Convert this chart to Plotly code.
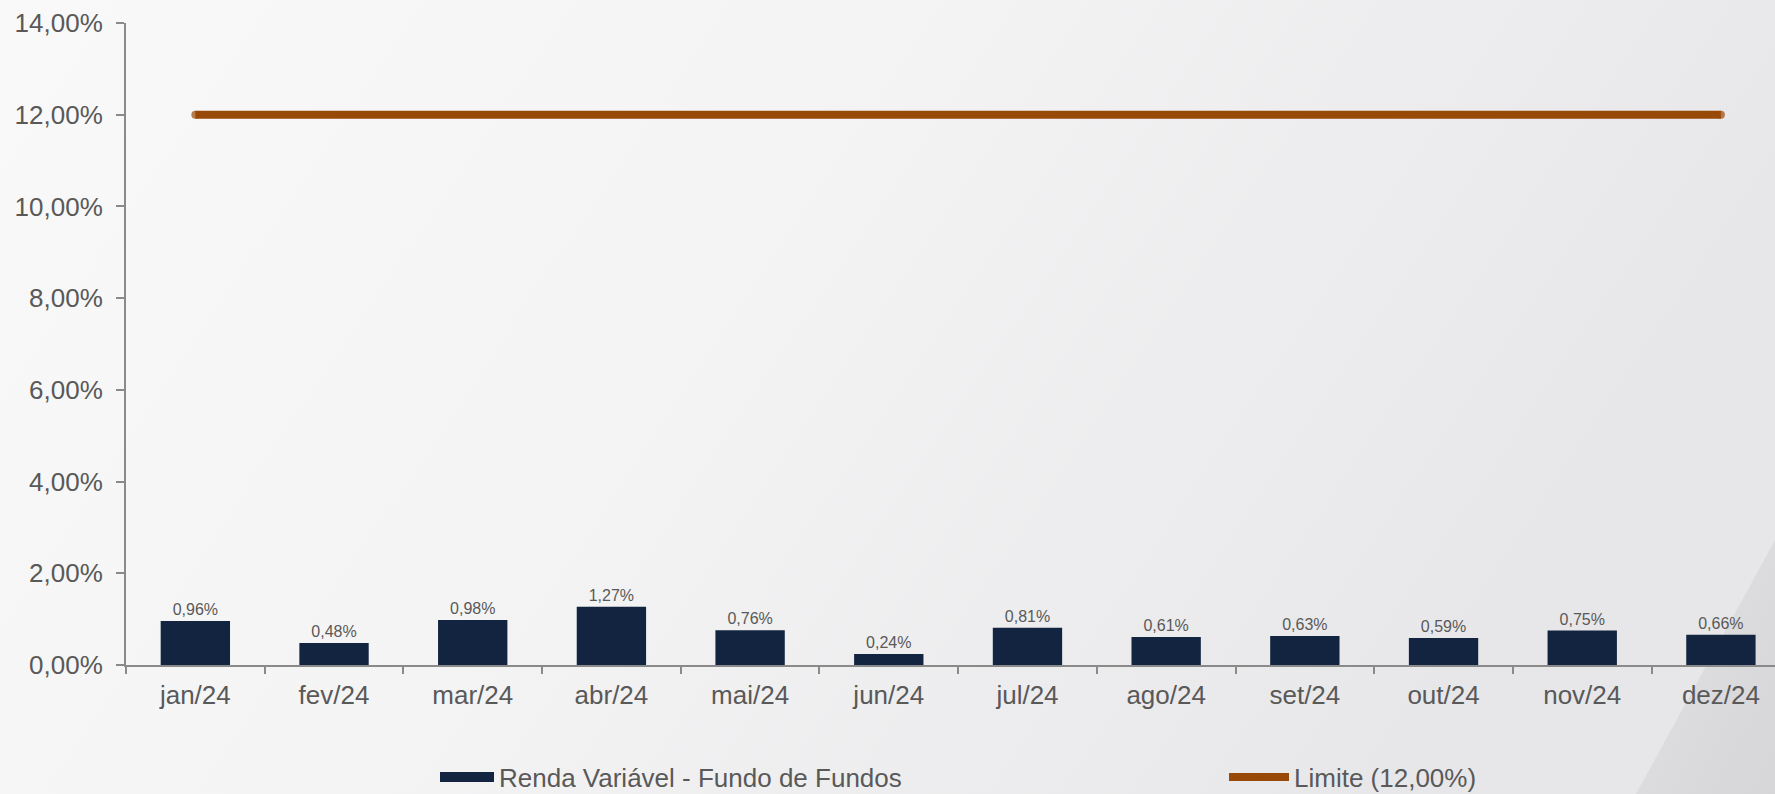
import base64
import plotly.graph_objects as go

months = ["jan/24", "fev/24", "mar/24", "abr/24", "mai/24", "jun/24",
          "jul/24", "ago/24", "set/24", "out/24", "nov/24", "dez/24"]
renda_variavel = [0.96, 0.48, 0.98, 1.27, 0.76, 0.24, 0.81, 0.61, 0.63, 0.59, 0.75, 0.66]
limite = [12.0] * 12
y_ticks = [0, 2, 4, 6, 8, 10, 12, 14]
y_tick_labels = ["0,00%", "2,00%", "4,00%", "6,00%", "8,00%", "10,00%", "12,00%", "14,00%"]

W, H = 1775, 794
TXT = "#595959"
NAVY = "#12243F"
BROWN = "#984807"

svg = f"""<svg xmlns='http://www.w3.org/2000/svg' width='{W}' height='{H}' viewBox='0 0 {W} {H}' preserveAspectRatio='none'>
<defs>
<linearGradient id='g' x1='0' y1='0' x2='1' y2='0.3'>
<stop offset='0' stop-color='#f9f9f9'/>
<stop offset='0.45' stop-color='#f4f4f5'/>
<stop offset='1' stop-color='#e7e7e9'/>
</linearGradient>
<linearGradient id='w' x1='0' y1='0' x2='1' y2='1'>
<stop offset='0' stop-color='#e2e2e4'/>
<stop offset='1' stop-color='#d6d6d8'/>
</linearGradient>
</defs>
<rect x='0' y='0' width='{W}' height='{H}' fill='url(#g)'/>
<polygon points='{W},540 {W},{H} 1636,{H}' fill='url(#w)'/>
</svg>"""
src = "data:image/svg+xml;base64," + base64.b64encode(svg.encode()).decode()

# round line caps: markers only at the two ends of the limit line
cap_sizes = [8 if i in (0, len(months) - 1) else 0 for i in range(len(months))]

fig = go.Figure()

fig.add_trace(go.Bar(
    x=months, y=renda_variavel, width=0.5,
    marker=dict(color=NAVY, line=dict(width=0)),
    texttemplate="%{y:.2f}%", textposition="outside",
    textfont=dict(size=16, color=TXT), cliponaxis=False,
    showlegend=False, name="Renda Variável - Fundo de Fundos",
    hovertemplate="%{x}: %{y:.2f}%<extra></extra>",
))
# legend proxy for the bar series (wide rectangle symbol)
fig.add_trace(go.Scatter(
    x=[None], y=[None], mode="lines",
    line=dict(color=NAVY, width=15),
    name="Renda Variável - Fundo de Fundos", legend="legend",
))
fig.add_trace(go.Scatter(
    x=months, y=limite, mode="lines+markers",
    line=dict(color=BROWN, width=8),
    marker=dict(color=BROWN, size=cap_sizes, line=dict(width=0)),
    name="Limite (12,00%)", legend="legend2",
    hovertemplate="%{x}: %{y:.2f}%<extra></extra>",
))

fig.update_layout(
    width=W, height=H,
    margin=dict(l=126, r=0, t=23, b=129),
    paper_bgcolor="#f6f6f6",
    plot_bgcolor="rgba(0,0,0,0)",
    separators=",.",
    font=dict(family="Liberation Sans, Arial, sans-serif", color=TXT, size=26),
    bargap=0.5,
    images=[dict(source=src, xref="paper", yref="paper",
                 x=-126 / 1649, y=1 + 23 / 642, sizex=W / 1649, sizey=H / 642,
                 xanchor="left", yanchor="top", sizing="stretch", layer="below")],
    legend=dict(xref="container", yref="container", x=435 / W, y=17 / H,
                xanchor="left", yanchor="middle", orientation="h", itemwidth=54,
                bgcolor="rgba(0,0,0,0)", font=dict(size=26, color=TXT)),
    legend2=dict(xref="container", yref="container", x=1224 / W, y=17 / H,
                 xanchor="left", yanchor="middle", orientation="h", itemwidth=60,
                 bgcolor="rgba(0,0,0,0)", font=dict(size=26, color=TXT)),
)

fig.update_xaxes(
    range=[-0.5, 11.39], showgrid=False, zeroline=False,
    showline=True, linecolor="#8a8a8a", linewidth=2,
    ticks="outside", tickson="boundaries", ticklen=7, tickcolor="#8a8a8a", tickwidth=2,
    tickfont=dict(size=26, color=TXT), ticklabelstandoff=6,
)
fig.update_yaxes(
    range=[0, 14], tickvals=y_ticks, ticktext=y_tick_labels,
    showgrid=False, zeroline=False,
    showline=True, linecolor="#8a8a8a", linewidth=2,
    ticks="outside", ticklen=8, tickcolor="#8a8a8a", tickwidth=2,
    tickfont=dict(size=26, color=TXT), ticklabelstandoff=8,
)

fig.write_html(
    "out.html",
    config={"displayModeBar": False},
    post_script="document.body.style.margin='0';document.body.style.overflow='hidden';",
)
